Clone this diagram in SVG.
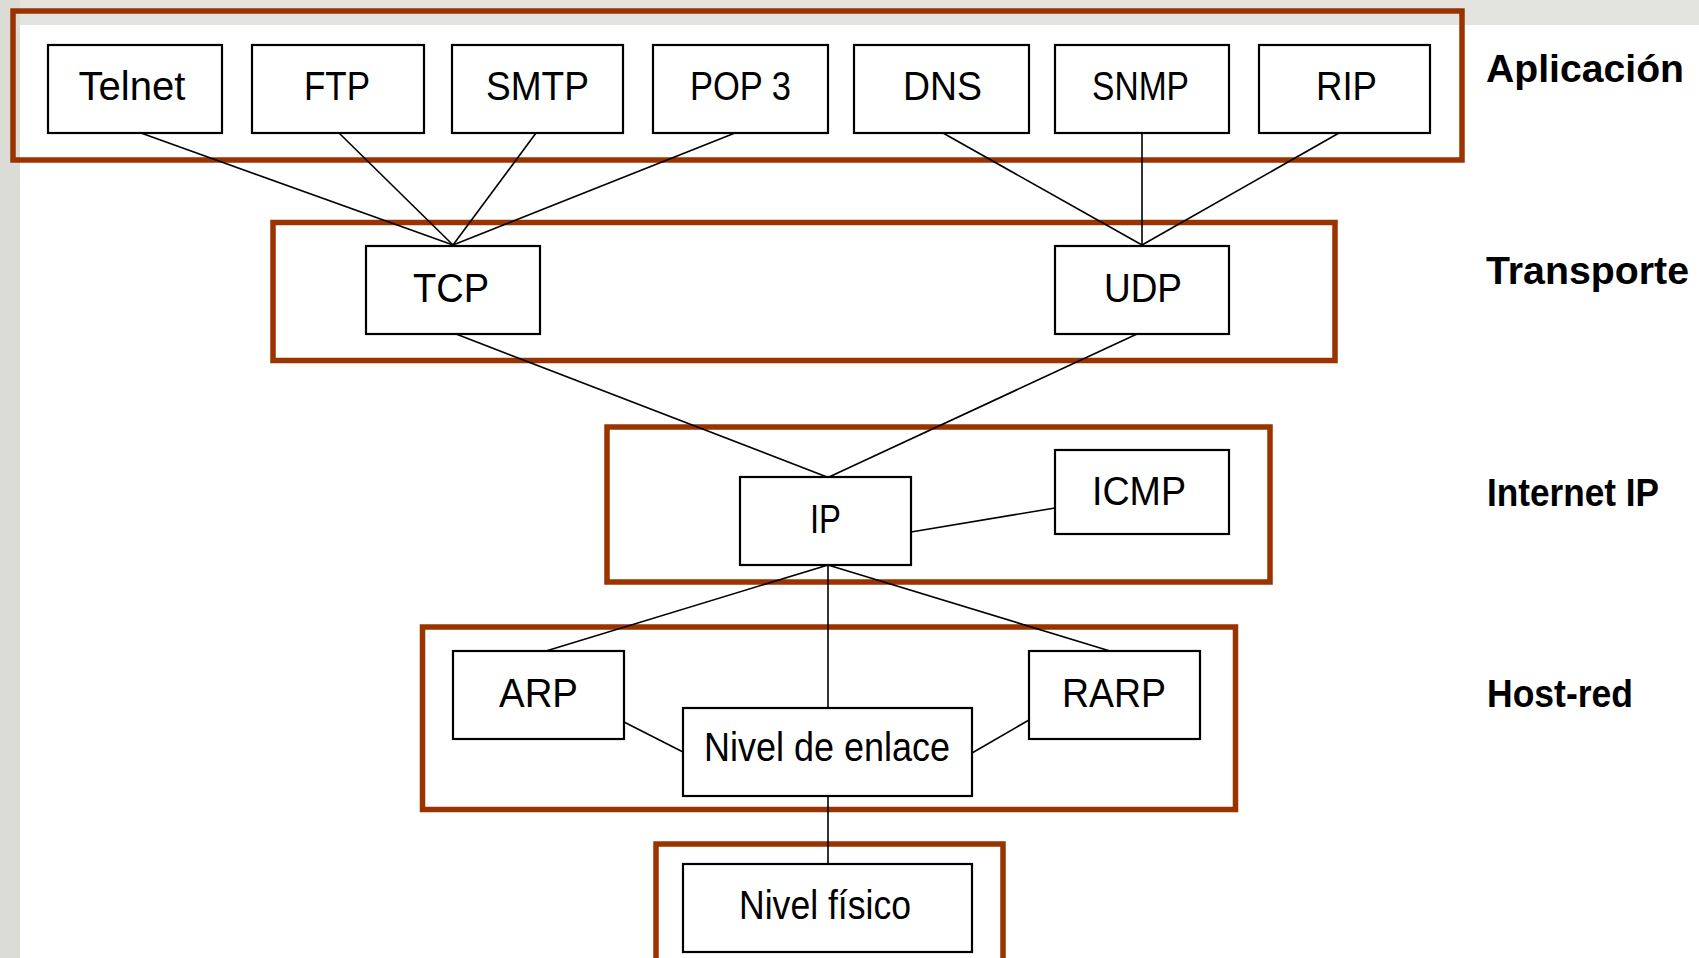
<svg xmlns="http://www.w3.org/2000/svg" width="1699" height="958" viewBox="0 0 1699 958">
<style>
.frame{fill:none;stroke:#993300;stroke-width:5.5}
.box{fill:#ffffff;stroke:#000000;stroke-width:2.2}
.lbl{font-family:"Liberation Sans",Arial,sans-serif;font-size:40px;fill:#000000;text-anchor:middle}
.side{font-family:"Liberation Sans",Arial,sans-serif;font-size:38px;font-weight:bold;fill:#000000}
.conn line{stroke:#000000;stroke-width:1.6}
</style>
<rect x="0" y="0" width="1699" height="958" fill="#ffffff"/>
<rect x="0" y="0" width="1699" height="25" fill="#e3e3df"/>
<rect x="0" y="0" width="20" height="958" fill="#dcdcd7"/>

<g id="frames">
<rect id="frame-aplicacion" class="frame" x="13" y="11" width="1449" height="149"/>
<rect id="frame-transporte" class="frame" x="273" y="222.5" width="1062" height="138"/>
<rect id="frame-internet" class="frame" x="607" y="427" width="663" height="155"/>
<rect id="frame-hostred" class="frame" x="422.5" y="627" width="813" height="182.5"/>
<rect id="frame-fisico" class="frame" x="656" y="844" width="347" height="130"/>
</g>

<g id="connectors" class="conn">
<line x1="141" y1="133" x2="453" y2="245"/>
<line x1="339" y1="133" x2="453" y2="245"/>
<line x1="536" y1="133" x2="453" y2="245"/>
<line x1="735" y1="133" x2="453" y2="245"/>
<line x1="943" y1="133" x2="1142" y2="245"/>
<line x1="1142" y1="133" x2="1142" y2="245"/>
<line x1="1339" y1="133" x2="1142" y2="245"/>
<line x1="456" y1="334" x2="827" y2="477"/>
<line x1="1137" y1="334" x2="829" y2="477"/>
<line x1="911" y1="532" x2="1055" y2="508"/>
<line x1="828" y1="565" x2="546" y2="651"/>
<line x1="828" y1="565" x2="828" y2="708"/>
<line x1="828" y1="565" x2="1110" y2="651"/>
<line x1="624" y1="722" x2="683" y2="752"/>
<line x1="1029" y1="720" x2="972" y2="753"/>
<line x1="828" y1="796" x2="828" y2="864"/>
</g>

<g id="node-telnet"><rect class="box" x="48" y="45" width="174" height="88"/><text class="lbl" x="132" y="100" textLength="107" lengthAdjust="spacingAndGlyphs">Telnet</text></g>
<g id="node-ftp"><rect class="box" x="252" y="45" width="172" height="88"/><text class="lbl" x="337" y="100" textLength="66" lengthAdjust="spacingAndGlyphs">FTP</text></g>
<g id="node-smtp"><rect class="box" x="452" y="45" width="171" height="88"/><text class="lbl" x="537.5" y="100" textLength="103" lengthAdjust="spacingAndGlyphs">SMTP</text></g>
<g id="node-pop3"><rect class="box" x="653" y="45" width="175" height="88"/><text class="lbl" x="740.5" y="100" textLength="101" lengthAdjust="spacingAndGlyphs">POP 3</text></g>
<g id="node-dns"><rect class="box" x="854" y="45" width="175" height="88"/><text class="lbl" x="942.5" y="100" textLength="79" lengthAdjust="spacingAndGlyphs">DNS</text></g>
<g id="node-snmp"><rect class="box" x="1055" y="45" width="174" height="88"/><text class="lbl" x="1140.5" y="100" textLength="97" lengthAdjust="spacingAndGlyphs">SNMP</text></g>
<g id="node-rip"><rect class="box" x="1259" y="45" width="171" height="88"/><text class="lbl" x="1346.5" y="100" textLength="61" lengthAdjust="spacingAndGlyphs">RIP</text></g>

<g id="node-tcp"><rect class="box" x="366" y="246" width="174" height="88"/><text class="lbl" x="451" y="302" textLength="76" lengthAdjust="spacingAndGlyphs">TCP</text></g>
<g id="node-udp"><rect class="box" x="1055" y="246" width="174" height="88"/><text class="lbl" x="1143" y="302" textLength="78" lengthAdjust="spacingAndGlyphs">UDP</text></g>

<g id="node-ip"><rect class="box" x="740" y="477" width="171" height="88"/><text class="lbl" x="825.5" y="533" textLength="31" lengthAdjust="spacingAndGlyphs">IP</text></g>
<g id="node-icmp"><rect class="box" x="1055" y="450" width="174" height="84"/><text class="lbl" x="1139" y="505" textLength="94" lengthAdjust="spacingAndGlyphs">ICMP</text></g>

<g id="node-arp"><rect class="box" x="453" y="651" width="171" height="88"/><text class="lbl" x="538.5" y="707" textLength="79" lengthAdjust="spacingAndGlyphs">ARP</text></g>
<g id="node-rarp"><rect class="box" x="1029" y="651" width="171" height="88"/><text class="lbl" x="1114" y="707" textLength="104" lengthAdjust="spacingAndGlyphs">RARP</text></g>
<g id="node-enlace"><rect class="box" x="683" y="708" width="289" height="88"/><text class="lbl" x="827" y="761" textLength="246" lengthAdjust="spacingAndGlyphs">Nivel de enlace</text></g>
<g id="node-fisico"><rect class="box" x="683" y="864" width="289" height="88"/><text class="lbl" x="825" y="919" textLength="172" lengthAdjust="spacingAndGlyphs">Nivel físico</text></g>

<g id="layer-labels">
<text class="side" x="1486" y="82" textLength="198" lengthAdjust="spacingAndGlyphs">Aplicación</text>
<text class="side" x="1486" y="284" textLength="203" lengthAdjust="spacingAndGlyphs">Transporte</text>
<text class="side" x="1487" y="506" textLength="172" lengthAdjust="spacingAndGlyphs">Internet IP</text>
<text class="side" x="1487" y="707" textLength="146" lengthAdjust="spacingAndGlyphs">Host-red</text>
</g>
</svg>
